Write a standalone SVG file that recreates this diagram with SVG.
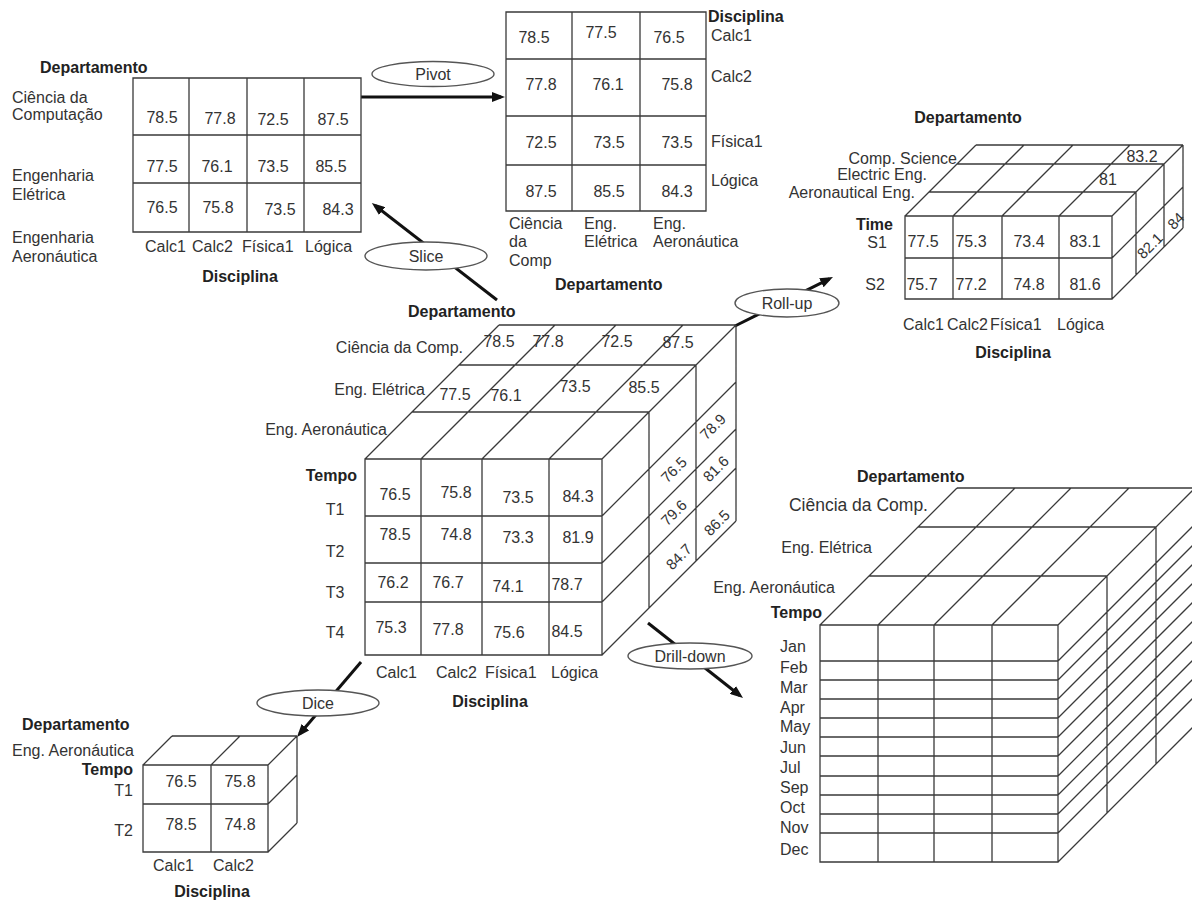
<svg xmlns="http://www.w3.org/2000/svg" width="1192" height="901" viewBox="0 0 1192 901">
<style>
text{font-family:"Liberation Sans",Arial,sans-serif;font-size:16px;fill:#333}
.b{font-weight:bold;fill:#222}
.m{text-anchor:middle}
.e{text-anchor:end}
.r{font-size:15px}
.ln{fill:none;stroke:#3a3a3a;stroke-width:1.3}
.arr{fill:none;stroke:#111;stroke-width:3;marker-end:url(#ah)}
.ell{fill:#fff;stroke:#555;stroke-width:1.4}
</style>
<defs>
<marker id="ah" markerUnits="userSpaceOnUse" markerWidth="13" markerHeight="10" refX="9" refY="5" orient="auto"><path d="M0,0 L13,5 L0,10 z" fill="#111"/></marker>
</defs>
<rect width="1192" height="901" fill="#fff"/>

<g id="connectors">
<path class="arr" d="M361,97 H501"/>
<path class="arr" d="M497,300 L375,205.5"/>
<path class="arr" d="M735,326 L829.4,278.8"/>
<path class="arr" d="M648,623 L739.9,695.5"/>
<path class="arr" d="M361,662 L299.6,734"/>
</g>

<g id="op-labels">
<g id="lbl-pivot"><ellipse class="ell" cx="433" cy="74" rx="61" ry="12.5"/><text x="433" y="80" class="m">Pivot</text></g>
<g id="lbl-slice"><ellipse class="ell" cx="426" cy="256" rx="61" ry="14"/><text x="426" y="262" class="m">Slice</text></g>
<g id="lbl-rollup"><ellipse class="ell" cx="787" cy="303" rx="52" ry="14"/><text x="787" y="309" class="m">Roll-up</text></g>
<g id="lbl-dice"><ellipse class="ell" cx="318" cy="703" rx="61" ry="13"/><text x="318" y="709" class="m">Dice</text></g>
<g id="lbl-drill"><ellipse class="ell" cx="690" cy="656" rx="62" ry="13"/><text x="690" y="662" class="m">Drill-down</text></g>
</g>

<g id="slice-table">
<path class="ln" d="M133,78H361V232H133Z M189,78V232 M247,78V232 M304,78V232 M133,135H361 M133,183H361"/>
<text x="40" y="73" class="b">Departamento</text>
<text x="12" y="103">Ciência da</text>
<text x="12" y="120">Computação</text>
<text x="12" y="181">Engenharia</text>
<text x="12" y="200">Elétrica</text>
<text x="12" y="243">Engenharia</text>
<text x="12" y="262">Aeronáutica</text>
<text x="162" y="123" class="m">78.5</text>
<text x="220" y="124" class="m">77.8</text>
<text x="273" y="125" class="m">72.5</text>
<text x="333" y="125" class="m">87.5</text>
<text x="162" y="172" class="m">77.5</text>
<text x="217" y="172" class="m">76.1</text>
<text x="273" y="172" class="m">73.5</text>
<text x="331" y="172" class="m">85.5</text>
<text x="162" y="213" class="m">76.5</text>
<text x="218" y="213" class="m">75.8</text>
<text x="280" y="215" class="m">73.5</text>
<text x="338" y="215" class="m">84.3</text>
<text x="145" y="252">Calc1</text>
<text x="192" y="252">Calc2</text>
<text x="242" y="252">Física1</text>
<text x="305" y="252">Lógica</text>
<text x="240" y="282" class="b m">Disciplina</text>
</g>

<g id="pivot-table">
<path class="ln" d="M506,12H706V211H506Z M572,12V211 M640,12V211 M506,59H706 M506,116H706 M506,165H706"/>
<text x="534" y="43" class="m">78.5</text>
<text x="601" y="38" class="m">77.5</text>
<text x="669" y="43" class="m">76.5</text>
<text x="541" y="90" class="m">77.8</text>
<text x="608" y="90" class="m">76.1</text>
<text x="677" y="90" class="m">75.8</text>
<text x="541" y="148" class="m">72.5</text>
<text x="609" y="148" class="m">73.5</text>
<text x="677" y="148" class="m">73.5</text>
<text x="541" y="197" class="m">87.5</text>
<text x="609" y="197" class="m">85.5</text>
<text x="677" y="197" class="m">84.3</text>
<text x="708" y="22" class="b">Disciplina</text>
<text x="711" y="41">Calc1</text>
<text x="711" y="82">Calc2</text>
<text x="711" y="147">Física1</text>
<text x="711" y="186">Lógica</text>
<text x="509" y="229">Ciência</text>
<text x="509" y="247">da</text>
<text x="509" y="266">Comp</text>
<text x="584" y="229">Eng.</text>
<text x="584" y="247">Elétrica</text>
<text x="653" y="229">Eng.</text>
<text x="653" y="247">Aeronáutica</text>
<text x="555" y="290" class="b">Departamento</text>
</g>

<g id="rollup-cube">
<path class="ln" d="M905,216H1112V299H905Z M953,216V299 M1002,216V299 M1059,216V299 M905,258H1112
M905,216L976,145 M953,216L1024,145 M1002,216L1073,145 M1059,216L1130,145 M1112,216L1183,145
M929,192H1136 M957,164H1164 M976,145H1183
M1136,192V275 M1164,164V247 M1183,145V228
M1112,258L1183,187 M1112,299L1183,228"/>
<text x="968" y="123" class="b m">Departamento</text>
<text x="957" y="164" class="e">Comp. Science</text>
<text x="927" y="180" class="e">Electric Eng.</text>
<text x="915" y="198" class="e">Aeronautical Eng.</text>
<text x="893" y="230" class="b e">Time</text>
<text x="877" y="248" class="m">S1</text>
<text x="875" y="290" class="m">S2</text>
<text x="1142" y="162" class="m">83.2</text>
<text x="1108" y="185" class="m">81</text>
<text x="923" y="247" class="m">77.5</text>
<text x="971" y="247" class="m">75.3</text>
<text x="1029" y="247" class="m">73.4</text>
<text x="1085" y="247" class="m">83.1</text>
<text x="922" y="290" class="m">75.7</text>
<text x="971" y="290" class="m">77.2</text>
<text x="1029" y="290" class="m">74.8</text>
<text x="1085" y="290" class="m">81.6</text>
<text x="1150" y="251" class="m r" transform="rotate(-45 1150 246)">82.1</text>
<text x="1176" y="226" class="m r" transform="rotate(-45 1176 221)">84</text>
<text x="903" y="330">Calc1</text>
<text x="947" y="330">Calc2</text>
<text x="990" y="330">Física1</text>
<text x="1057" y="330">Lógica</text>
<text x="1013" y="358" class="b m">Disciplina</text>
</g>

<g id="main-cube">
<path class="ln" d="M365,459H602V655H365Z M421,459V655 M482,459V655 M549,459V655 M365,516H602 M365,563H602 M365,602H602
M365,459L499,325 M421,459L555,325 M482,459L616,325 M549,459L683,325 M602,459L736,325
M412,412H649 M459,365H696 M499,325H736
M649,412V608 M696,365V561 M736,325V521
M602,516L736,382 M602,563L736,429 M602,602L736,468 M602,655L736,521"/>
<text x="408" y="317" class="b">Departamento</text>
<text x="463" y="353" class="e">Ciência da Comp.</text>
<text x="425" y="395" class="e">Eng. Elétrica</text>
<text x="387" y="435" class="e">Eng. Aeronáutica</text>
<text x="499" y="347" class="m">78.5</text>
<text x="548" y="347" class="m">77.8</text>
<text x="617" y="347" class="m">72.5</text>
<text x="678" y="348" class="m">87.5</text>
<text x="455" y="400" class="m">77.5</text>
<text x="506" y="401" class="m">76.1</text>
<text x="575" y="392" class="m">73.5</text>
<text x="644" y="393" class="m">85.5</text>
<text x="713" y="432" class="m r" transform="rotate(-45 713 427)">78.9</text>
<text x="716" y="474" class="m r" transform="rotate(-45 716 469)">81.6</text>
<text x="717" y="528" class="m r" transform="rotate(-45 717 523)">86.5</text>
<text x="674" y="475" class="m r" transform="rotate(-45 674 470)">76.5</text>
<text x="674" y="518" class="m r" transform="rotate(-45 674 513)">79.6</text>
<text x="679" y="562" class="m r" transform="rotate(-45 679 557)">84.7</text>
<text x="357" y="481" class="b e">Tempo</text>
<text x="335" y="515" class="m">T1</text>
<text x="335" y="557" class="m">T2</text>
<text x="335" y="598" class="m">T3</text>
<text x="335" y="638" class="m">T4</text>
<text x="395" y="500" class="m">76.5</text>
<text x="456" y="498" class="m">75.8</text>
<text x="518" y="503" class="m">73.5</text>
<text x="578" y="502" class="m">84.3</text>
<text x="395" y="540" class="m">78.5</text>
<text x="456" y="540" class="m">74.8</text>
<text x="518" y="543" class="m">73.3</text>
<text x="578" y="543" class="m">81.9</text>
<text x="393" y="588" class="m">76.2</text>
<text x="448" y="588" class="m">76.7</text>
<text x="508" y="592" class="m">74.1</text>
<text x="567" y="590" class="m">78.7</text>
<text x="391" y="633" class="m">75.3</text>
<text x="448" y="635" class="m">77.8</text>
<text x="509" y="638" class="m">75.6</text>
<text x="567" y="637" class="m">84.5</text>
<text x="376" y="678">Calc1</text>
<text x="436" y="678">Calc2</text>
<text x="485" y="678">Física1</text>
<text x="551" y="678">Lógica</text>
<text x="490" y="707" class="b m">Disciplina</text>
</g>

<g id="dice-cube">
<path class="ln" d="M143,765H268V852H143Z M211,765V852 M143,804H268
M143,765L172,736 M211,765L240,736 M268,765L297,736 M172,736H297
M297,736V823 M268,804L297,775 M268,852L297,823"/>
<text x="22" y="730" class="b">Departamento</text>
<text x="12" y="756">Eng. Aeronáutica</text>
<text x="133" y="775" class="b e">Tempo</text>
<text x="133" y="796" class="e">T1</text>
<text x="133" y="836" class="e">T2</text>
<text x="181" y="787" class="m">76.5</text>
<text x="240" y="787" class="m">75.8</text>
<text x="181" y="830" class="m">78.5</text>
<text x="240" y="830" class="m">74.8</text>
<text x="153" y="871">Calc1</text>
<text x="213" y="871">Calc2</text>
<text x="212" y="897" class="b m">Disciplina</text>
</g>

<g id="drilldown-cube">
<path class="ln" d="M820,625H1058V862H820Z M878,625V862 M934,625V862 M992,625V862
M820,661H1058 M820,680H1058 M820,699H1058 M820,718H1058 M820,737H1058 M820,756H1058 M820,776H1058 M820,795H1058 M820,814H1058 M820,833H1058
M820,625L957,488 M878,625L1015,488 M934,625L1071,488 M992,625L1129,488 M1058,625L1195,488
M869,576H1107 M918,527H1156 M957,488H1195
M1107,576V813 M1156,527V764
M1058,661L1195,524 M1058,680L1195,543 M1058,699L1195,562 M1058,718L1195,581 M1058,737L1195,600 M1058,756L1195,619 M1058,776L1195,639 M1058,795L1195,658 M1058,814L1195,677 M1058,833L1195,696 M1058,862L1195,725"/>
<text x="857" y="482" class="b">Departamento</text>
<text x="928" y="511" class="e" style="font-size:17.5px">Ciência da Comp.</text>
<text x="872" y="553" class="e">Eng. Elétrica</text>
<text x="835" y="593" class="e">Eng. Aeronáutica</text>
<text x="822" y="618" class="b e">Tempo</text>
<text x="780" y="652">Jan</text>
<text x="780" y="673">Feb</text>
<text x="780" y="693">Mar</text>
<text x="780" y="713">Apr</text>
<text x="780" y="732">May</text>
<text x="780" y="753">Jun</text>
<text x="780" y="773">Jul</text>
<text x="780" y="793">Sep</text>
<text x="780" y="813">Oct</text>
<text x="780" y="833">Nov</text>
<text x="780" y="855">Dec</text>
</g>
</svg>
